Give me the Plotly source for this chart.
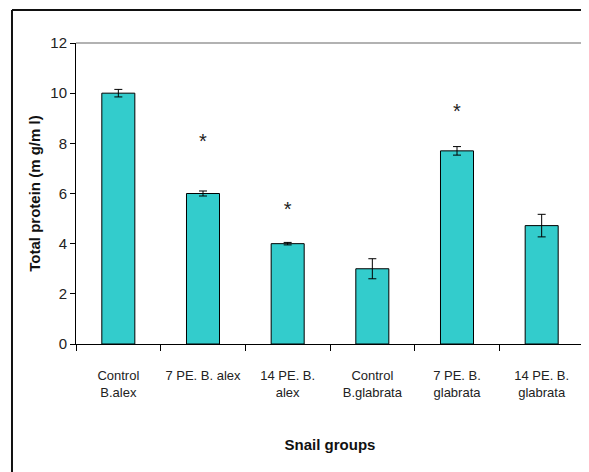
import plotly.graph_objects as go

categories = ["Control<br>B.alex", "7 PE. B. alex", "14 PE. B.<br>alex",
              "Control<br>B.glabrata", "7 PE. B.<br>glabrata", "14 PE. B.<br>glabrata"]
protein = [10.0, 6.0, 4.0, 3.0, 7.7, 4.72]
errors = [0.15, 0.1, 0.05, 0.4, 0.17, 0.45]
star_labels = ["", "*", "*", "", "*", ""]
star_y = [None, 8.0, 5.3, None, 9.2, None]
y_ticks = [0, 2, 4, 6, 8, 10, 12]

font = "Liberation Sans, Arial, sans-serif"

fig = go.Figure()
fig.add_trace(go.Bar(
    x=categories, y=protein,
    marker=dict(color="#33CCCC", line=dict(color="#000000", width=1)),
    error_y=dict(type="data", array=errors, visible=True, color="#000000", thickness=1, width=4),
    width=0.39, showlegend=False,
))
sx = [c for c, s in zip(categories, star_labels) if s]
sy = [v for v, s in zip(star_y, star_labels) if s]
st = [s for s in star_labels if s]
fig.add_trace(go.Scatter(
    x=sx, y=sy, mode="text", text=st,
    textfont=dict(size=20, color="#222222", family=font),
    showlegend=False, hoverinfo="skip",
))

fig.update_layout(
    width=581, height=464,
    margin=dict(l=68, r=5, t=35, b=128, autoexpand=False),
    paper_bgcolor="white", plot_bgcolor="white",
    shapes=[
        dict(type="line", xref="paper", yref="paper", x0=0, x1=1, y0=1, y1=1,
             line=dict(color="#999999", width=1.5)),
        dict(type="line", xref="paper", yref="paper", x0=1, x1=1, y0=0, y1=1,
             line=dict(color="#999999", width=1.5)),
        dict(type="line", xref="paper", yref="paper", x0=-0.126, x1=1.02, y0=1.1096, y1=1.1096,
             line=dict(color="#111111", width=2)),
        dict(type="line", xref="paper", yref="paper", x0=-0.126, x1=-0.126, y0=1.1096, y1=-0.43,
             line=dict(color="#111111", width=2)),
    ],
)
fig.update_xaxes(
    type="category", showline=True, linecolor="#000000", linewidth=1,
    ticks="outside", tickson="boundaries", ticklen=6, tickcolor="#000000",
    tickangle=0, ticklabelstandoff=19,
    tickfont=dict(family=font, size=13, color="#222222"),
    title=dict(text="<b>Snail groups</b>", font=dict(family=font, size=15, color="#111111"), standoff=40),
    showgrid=False,
)
fig.update_yaxes(
    range=[0, 12], tickvals=y_ticks, showline=True, linecolor="#000000", linewidth=1,
    ticks="outside", ticklen=5, tickcolor="#000000",
    tickfont=dict(family=font, size=15, color="#222222"),
    title=dict(text="<b>Total protein (m g/m l)</b>", font=dict(family=font, size=15, color="#111111"), standoff=6),
    showgrid=False, zeroline=False,
)
fig.write_html("out.html")
